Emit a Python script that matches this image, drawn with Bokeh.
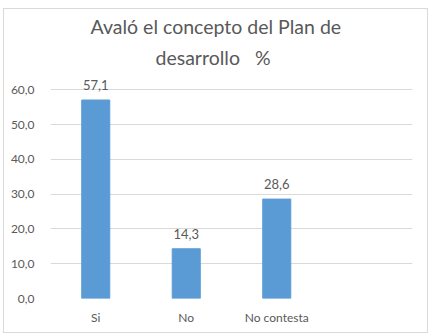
from bokeh.plotting import figure
from bokeh.models import ColumnDataSource, FixedTicker, Range1d, Title, LabelSet, InlineStyleSheet
from bokeh.core.properties import value
from bokeh.embed import file_html
from bokeh.resources import INLINE

# Respuestas a la pregunta sobre el Plan de desarrollo (%)
categories = ["Si", "No", "No contesta"]
percentages = [57.1, 14.3, 28.6]
y_ticks = [0, 10, 20, 30, 40, 50, 60]
y_tick_labels = ["0,0", "10,0", "20,0", "30,0", "40,0", "50,0", "60,0"]
title_lines = ["Avaló el concepto del Plan de", "desarrollo\u00a0\u00a0\u00a0%"]

FONT = "Lato"
GREY_TEXT = "#595959"
GRID = "#d9d9d9"
BAR = "#5b9bd5"

# one empty slot on the right, as in the original category axis
xs = [i + 0.5 for i in range(len(categories))]
labels = [f"{v:.1f}".replace(".", ",") for v in percentages]
src = ColumnDataSource(dict(x=xs, top=percentages, label=labels))

p = figure(width=432, height=336, output_backend="svg", toolbar_location=None,
           x_range=Range1d(0, 4), y_range=Range1d(0, 63),
           min_border_left=50, min_border_right=20, min_border_top=79,
           min_border_bottom=38)
p.title = None

p.vbar(x="x", top="top", width=0.31, source=src, color=BAR)
p.add_layout(LabelSet(x="x", y="top", text="label", source=src, y_offset=10,
                      text_align="center", text_baseline="bottom",
                      text_font=value(FONT), text_font_size=value("13px"),
                      text_color=value(GREY_TEXT)))

# Two-line title, bottom line added first so it sits next to the plot
for line, standoff, offset in ((title_lines[1], 21, 105), (title_lines[0], -9, 40)):
    p.add_layout(Title(text=line, align="left", offset=offset,
                       text_font=FONT, text_font_size="19.5px",
                       text_font_style="normal", text_color=GREY_TEXT,
                       standoff=standoff), "above")

# Axes
p.xaxis.ticker = FixedTicker(ticks=xs)
p.xaxis.major_label_overrides = {x: c for x, c in zip(xs, categories)}
p.yaxis.ticker = FixedTicker(ticks=y_ticks)
p.yaxis.major_label_overrides = {t: l for t, l in zip(y_ticks, y_tick_labels)}
for ax in (p.xaxis, p.yaxis):
    ax.axis_line_color = None
    ax.major_tick_line_color = None
    ax.minor_tick_line_color = None
    ax.major_label_text_font = FONT
    ax.major_label_text_font_size = "12px"
    ax.major_label_text_color = GREY_TEXT
p.xaxis.major_label_standoff = 5
p.yaxis.major_label_standoff = 10

p.xgrid.grid_line_color = None
p.ygrid.ticker = FixedTicker(ticks=y_ticks)
p.ygrid.grid_line_color = GRID
p.outline_line_color = None

# Thin chart border around the whole figure
p.stylesheets = [InlineStyleSheet(css="""
:host { position: relative; }
:host::after {
  content: ""; position: absolute; left: 3px; top: 8px; right: 4px; bottom: 3px;
  border: 1px solid #d9d9d9; pointer-events: none; z-index: 100;
}
""")]

open("out.html", "w").write(file_html(p, INLINE))
